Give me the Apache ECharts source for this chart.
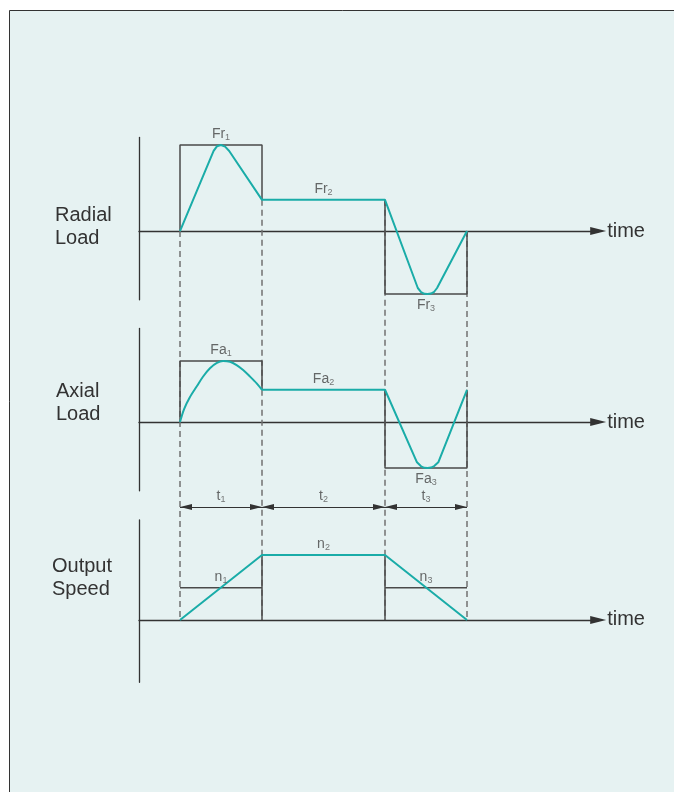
<!DOCTYPE html>
<html>
<head>
<meta charset="utf-8">
<script src="https://cdn.jsdelivr.net/npm/echarts@6/dist/echarts.min.js"></script>
<style>
html,body{margin:0;padding:0;background:#fff}
#main{width:674px;height:792px}
</style>
</head>
<body>
<div id="main"></div>
<script>
// phase boundaries on the time axis, and phase midpoints for labels
var phaseTimes = [1, 3, 6, 8];
var phaseMid = [2, 4.5, 7];

// levels of each phase (Fr1..3, Fa1..3, n1..3)
var radialLevels = [8, 2.9, -5.86];
var axialLevels = [5.67, 3, -4.28];
var speedLevels = [3, 6.05, 3];

// the traced curves
var radialCurve = [[1,0],[1.82,7.45],[1.9,7.88],[2,8],[2.1,7.85],[2.2,7.45],[3,2.9],[6,2.9],
  [6.8,-5.3],[6.88,-5.68],[6.96,-5.84],[7.04,-5.86],[7.12,-5.82],[7.2,-5.65],[7.27,-5.3],[8,0]];
var axialRise = [[1,0],[1.1,1.2],[1.24,2.3],[1.41,3.32],[1.56,4.21],[1.73,5.0],[1.9,5.5],
  [2.05,5.67],[2.22,5.6],[2.38,5.3],[2.54,4.84],[2.71,4.22],[2.87,3.6],[3,3]];
var axialRest = [[3,3],[6,3],[6.78,-3.75],[6.88,-4.12],[6.96,-4.26],[7.04,-4.28],[7.12,-4.24],
  [7.2,-4.1],[7.3,-3.75],[8,3]];
var speedCurve = [[1,0],[3,6.05],[6,6.05],[8,0]];

var radialNames = ['Fr', 'Fr', 'Fr'];
var axialNames = ['Fa', 'Fa', 'Fa'];
var speedNames = ['n', 'n', 'n'];
var durationNames = ['t', 't', 't'];

// layout
var UNIT = 10.75;          // px per level unit
var GRID_LEFT = 139, GRID_WIDTH = 459.2, T_MAX = 11.2;
var panels = [
  {title: 'Radial\nLoad', top: 137.5, min: -6.4, max: 8.7, tLeft: 55, tTop: 204},
  {title: 'Axial\nLoad', top: 328.5, min: -6.4, max: 8.7, tLeft: 56, tTop: 380},
  {title: 'Output\nSpeed', top: 520, min: -5.8, max: 9.3, tLeft: 52, tTop: 555}
];
var OV_TOP = 100, OV_HEIGHT = 600;
var DIM_LEVEL = 10.5;      // duration arrows, in speed-panel units

var TEAL = '#1aaca8', DARK = '#4a4a4a', DASH = '#707070';

var myChart = echarts.init(document.getElementById('main'));

function base(p){ return panels[p].top + panels[p].max * UNIT; }
function ov(p, level){ return (base(2) - base(p)) / UNIT + level; }

var grids = [], xAxes = [], yAxes = [], titles = [], series = [];

panels.forEach(function(pn, i){
  grids.push({left: GRID_LEFT, top: pn.top, width: GRID_WIDTH, height: (pn.max - pn.min) * UNIT, outerBoundsMode: 'none'});
  xAxes.push({
    gridIndex: i, type: 'value', min: 0, max: T_MAX,
    axisLine: {onZero: true, symbol: ['none', 'triangle'], symbolSize: [8, 16], lineStyle: {color: '#333', width: 1.3}},
    axisTick: {show: false}, axisLabel: {show: false}, splitLine: {show: false},
    name: 'time', nameLocation: 'end', nameGap: 9,
    nameTextStyle: {fontSize: 20, color: '#333', fontFamily: 'Liberation Sans', verticalAlign: 'middle', align: 'left'}
  });
  yAxes.push({
    gridIndex: i, type: 'value', min: pn.min, max: pn.max,
    axisLine: {show: true, lineStyle: {color: '#333', width: 1.3}},
    axisTick: {show: false}, axisLabel: {show: false}, splitLine: {show: false}
  });
  titles.push({
    text: pn.title, left: pn.tLeft, top: pn.tTop, padding: 0,
    textStyle: {fontSize: 20, lineHeight: 23, fontWeight: 'normal', color: '#333', fontFamily: 'Liberation Sans'}
  });
});

// overlay grid for guides that cross panels
grids.push({left: GRID_LEFT, top: OV_TOP, width: GRID_WIDTH, height: OV_HEIGHT, outerBoundsMode: 'none'});
xAxes.push({gridIndex: 3, type: 'value', min: 0, max: T_MAX, show: false});
yAxes.push({gridIndex: 3, type: 'value', min: -(OV_TOP + OV_HEIGHT - base(2)) / UNIT, max: (base(2) - OV_TOP) / UNIT, show: false});

function seg(idx, pts){
  series.push({
    type: 'line', xAxisIndex: idx, yAxisIndex: idx, data: pts, symbol: 'none', silent: true, z: 2,
    lineStyle: {color: DARK, width: 1.5}
  });
}

function curve(idx, pts, smooth){
  series.push({
    type: 'line', xAxisIndex: idx, yAxisIndex: idx, data: pts, symbol: 'none', silent: true, z: 4,
    smooth: smooth || false, lineStyle: {color: TEAL, width: 2}
  });
}

var rich = {
  a: {fontSize: 14, lineHeight: 16, color: '#444', fontFamily: 'Liberation Sans'},
  s: {fontSize: 9, lineHeight: 16, color: '#555', verticalAlign: 'bottom', fontFamily: 'Liberation Sans'}
};

function labels(idx, names, pts, pos){
  series.push({
    type: 'scatter', xAxisIndex: idx, yAxisIndex: idx, symbolSize: 0, silent: true, z: 5,
    data: pts.map(function(p, k){
      return {value: p, name: names[k] + '|' + (k + 1), label: {position: pos[k]}};
    }),
    label: {
      show: true, distance: 3,
      formatter: function(d){ var s = d.name.split('|'); return '{a|' + s[0] + '}{s|' + s[1] + '}'; },
      rich: rich
    }
  });
}

var T = phaseTimes, R = radialLevels, A = axialLevels, S = speedLevels;

// dashed guides through all panels
[[T[0], ov(0, 0)], [T[1], ov(0, R[1])], [T[2], ov(0, R[1])], [T[3], ov(0, 0)]].forEach(function(g){
  series.push({
    type: 'line', xAxisIndex: 3, yAxisIndex: 3, symbol: 'none', silent: true, z: 1,
    data: [[g[0], g[1]], [g[0], ov(2, 0)]],
    lineStyle: {color: DASH, width: 1.5, type: [6, 4]}
  });
});

// boxes
seg(0, [[T[0],0],[T[0],R[0]],[T[1],R[0]],[T[1],R[1]]]);
seg(0, [[T[2],R[1]],[T[2],R[2]],[T[3],R[2]],[T[3],0]]);
seg(1, [[T[0],0],[T[0],A[0]],[T[1],A[0]],[T[1],A[1]]]);
seg(1, [[T[2],A[1]],[T[2],A[2]],[T[3],A[2]],[T[3],A[1]]]);
seg(2, [[T[0],S[0]],[T[1],S[0]]]);
seg(2, [[T[1],0],[T[1],S[1]]]);
seg(2, [[T[2],S[1]],[T[2],0]]);
seg(2, [[T[2],S[2]],[T[3],S[2]]]);

// curves
curve(0, radialCurve);
curve(1, axialRise, 0.3);
curve(1, axialRest);
curve(2, speedCurve);

// labels
labels(0, radialNames, [[phaseMid[0], R[0]], [phaseMid[1], R[1]], [phaseMid[2], R[2]]], ['top', 'top', 'bottom']);
labels(1, axialNames, [[phaseMid[0], A[0]], [phaseMid[1], A[1]], [phaseMid[2], A[2]]], ['top', 'top', 'bottom']);
labels(2, speedNames, [[phaseMid[0], S[0]], [phaseMid[1], S[1]], [phaseMid[2], S[2]]], ['top', 'top', 'top']);
labels(3, durationNames, phaseMid.map(function(m){ return [m, DIM_LEVEL]; }), ['top', 'top', 'top']);

// duration arrows
series.push({
  type: 'line', xAxisIndex: 3, yAxisIndex: 3, data: [], silent: true, z: 3,
  markLine: {
    silent: true, animation: false,
    symbol: ['triangle', 'triangle'], symbolSize: [6, 12], symbolOffset: [[0, '50%'], [0, '50%']],
    lineStyle: {color: '#333', width: 1.2, type: 'solid'},
    label: {show: false},
    data: [0, 1, 2].map(function(k){
      return [{coord: [T[k], DIM_LEVEL]}, {coord: [T[k + 1], DIM_LEVEL]}];
    })
  }
});

var option = {
  animation: false,
  backgroundColor: '#fff',
  graphic: [{
    type: 'rect', z: -10, silent: true,
    shape: {x: 9.5, y: 10.5, width: 700, height: 800},
    style: {fill: '#e6f2f2', stroke: '#333', lineWidth: 1}
  }],
  title: titles,
  grid: grids,
  xAxis: xAxes,
  yAxis: yAxes,
  series: series
};

myChart.setOption(option);
</script>
</body>
</html>
